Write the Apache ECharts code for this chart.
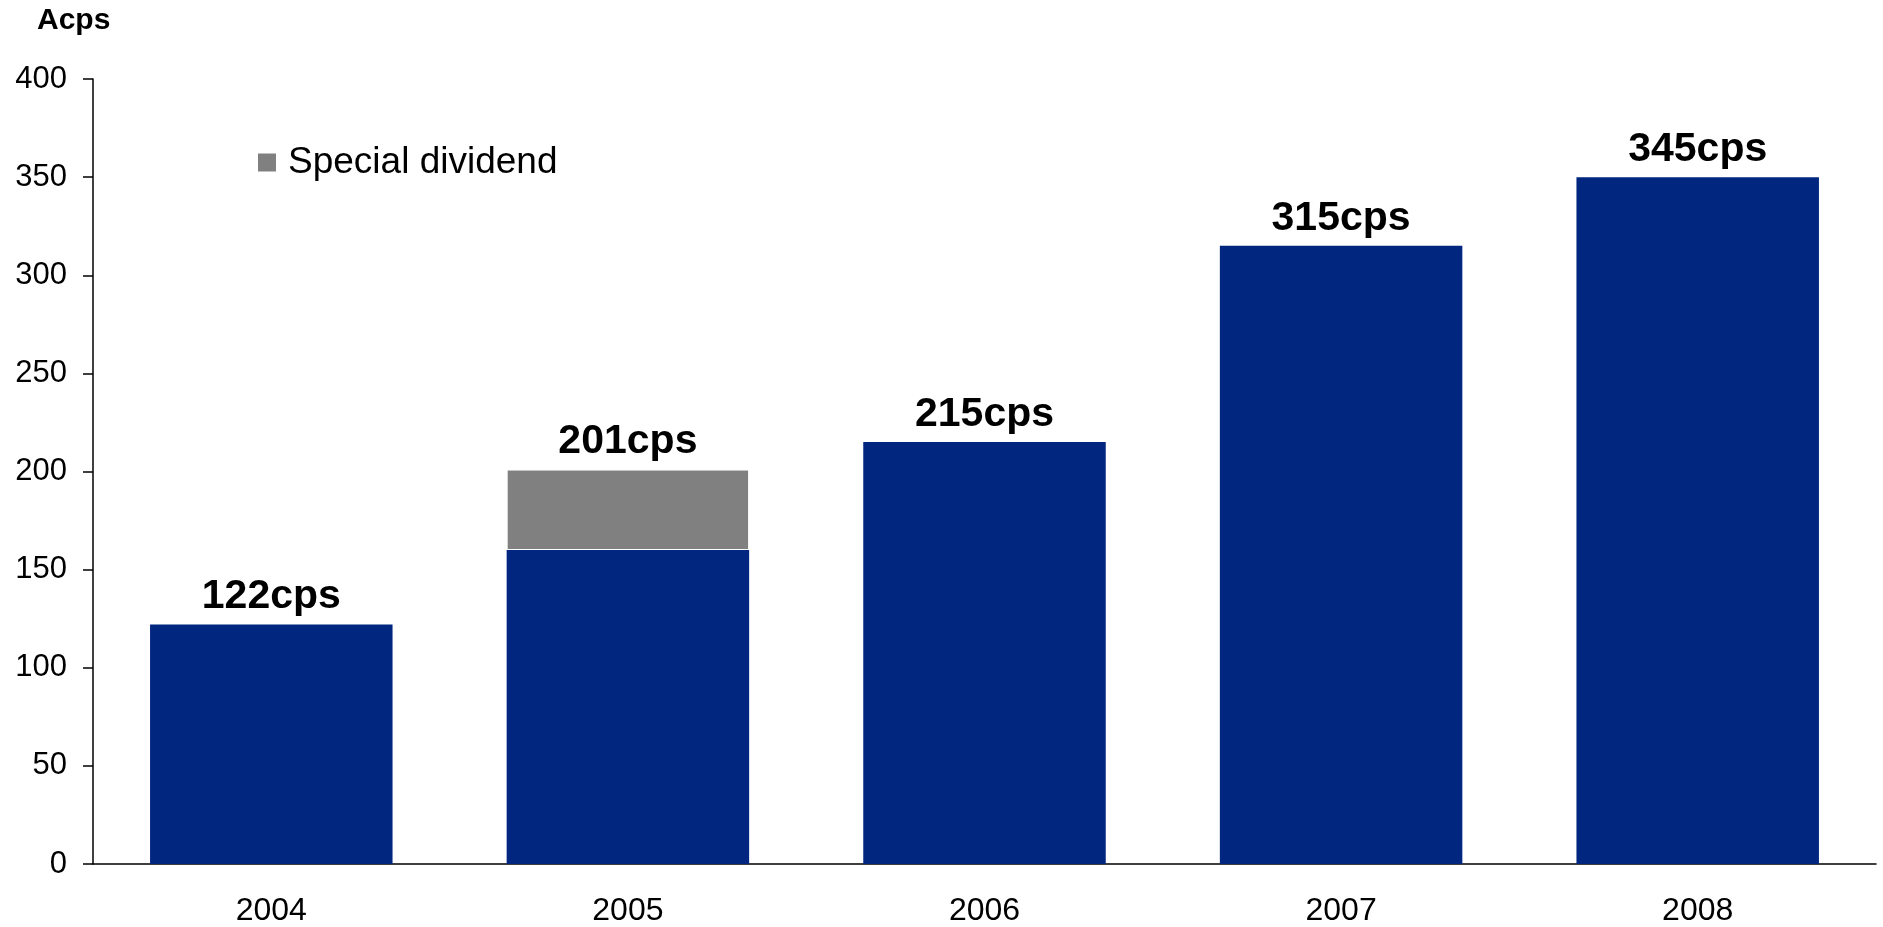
<!DOCTYPE html>
<html>
<head>
<meta charset="utf-8">
<script src="https://cdn.jsdelivr.net/npm/echarts@6/dist/echarts.min.js"></script>
<style>html,body{margin:0;padding:0;background:#fff;}#c{width:1883px;height:927px;}</style>
</head>
<body>
<div id="c"></div>
<script>
var categories = ['2004', '2005', '2006', '2007', '2008'];
var ordinaryDividend = [122, 160, 215, 315, 350];
var specialDividend = [0, 41, 0, 0, 0];
var totalLabels = ['122cps', '201cps', '215cps', '315cps', '345cps'];
var yTicks = [0, 50, 100, 150, 200, 250, 300, 350, 400];

var FONT = '"Liberation Sans", Arial, sans-serif';
var labelStyle = { show: true, position: 'top', distance: 7, color: '#000', fontFamily: FONT, fontWeight: 'bold', fontSize: 41 };

var baseData = ordinaryDividend.map(function (v, i) {
  var d = { value: v };
  if (!(specialDividend[i] > 0)) {
    d.label = Object.assign({}, labelStyle, { formatter: totalLabels[i] });
  }
  return d;
});
var specialData = specialDividend.map(function (v, i) {
  if (v > 0) {
    return { value: v, label: Object.assign({}, labelStyle, { formatter: totalLabels[i] }) };
  }
  return { value: '-' };
});

var chart = echarts.init(document.getElementById('c'));
chart.setOption({
  animation: false,
  backgroundColor: '#fff',
  title: {
    text: 'Acps', left: 37, top: 6, padding: 0,
    textStyle: { fontFamily: FONT, fontWeight: 'bold', fontSize: 30, color: '#000' }
  },
  legend: {
    data: ['Special dividend'],
    left: 256, top: 144, padding: 0,
    icon: 'rect', itemWidth: 20, itemHeight: 20,
    textStyle: { fontFamily: FONT, fontSize: 37, color: '#000', padding: [0, 0, 0, 6] }
  },
  grid: { left: 93, right: 7, top: 79, bottom: 60, containLabel: false },
  xAxis: {
    type: 'category',
    data: categories,
    axisLine: { lineStyle: { color: '#000', width: 1.5 } },
    axisTick: { show: false },
    axisLabel: { fontFamily: FONT, fontSize: 32, color: '#000', margin: 31 }
  },
  yAxis: {
    type: 'value',
    min: yTicks[0], max: yTicks[yTicks.length - 1], interval: yTicks[1] - yTicks[0],
    axisLine: { show: true, lineStyle: { color: '#000', width: 1.5 } },
    axisTick: { show: true, inside: false, length: 10, lineStyle: { color: '#000', width: 1.5 } },
    splitLine: { show: false },
    axisLabel: { fontFamily: FONT, fontSize: 31, color: '#000', margin: 26 }
  },
  series: [
    {
      name: 'Ordinary dividend', type: 'bar', stack: 'div',
      barCategoryGap: '32%',
      itemStyle: { color: '#00267F' },
      data: baseData
    },
    {
      name: 'Special dividend', type: 'bar', stack: 'div',
      itemStyle: { color: '#808080', borderColor: '#ffffff', borderWidth: 1 },
      data: specialData
    }
  ]
});
</script>
</body>
</html>
